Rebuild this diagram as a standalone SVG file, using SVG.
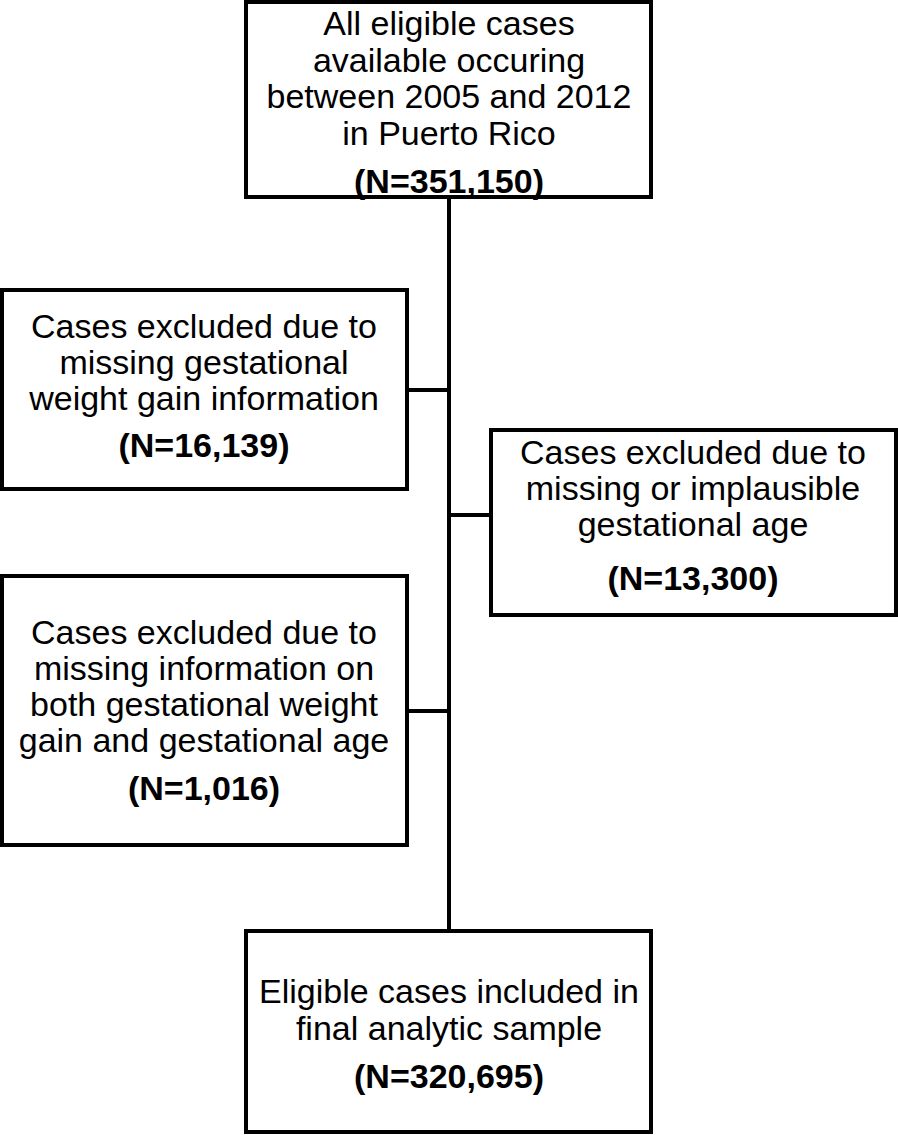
<svg xmlns="http://www.w3.org/2000/svg" width="898" height="1135" viewBox="0 0 898 1135">
<style>
.box{fill:#fff;stroke:#000;stroke-width:4}
.t{font-family:"Liberation Sans",Arial,sans-serif;font-size:34px;fill:#000;text-anchor:middle}
.b{font-family:"Liberation Sans",Arial,sans-serif;font-size:34px;font-weight:bold;fill:#000;text-anchor:middle}
.c{stroke:#000;stroke-width:4;fill:none}
</style>
<rect width="898" height="1135" fill="#fff"/>
<g id="connectors">
<line class="c" x1="449" y1="197" x2="449" y2="931"/>
<line class="c" x1="407" y1="390" x2="449" y2="390"/>
<line class="c" x1="449" y1="515" x2="491" y2="515"/>
<line class="c" x1="407" y1="711" x2="449" y2="711"/>
</g>
<g id="node-all">
<rect class="box" x="246" y="2" width="405" height="195"/>
<text class="t" x="449" y="35">All eligible cases</text>
<text class="t" x="449" y="72">available occuring</text>
<text class="t" x="449" y="108">between 2005 and 2012</text>
<text class="t" x="449" y="145">in Puerto Rico</text>
<text class="b" x="449" y="193">(N=351,150)</text>
</g>
<g id="node-gwg">
<rect class="box" x="2" y="290" width="405" height="199"/>
<text class="t" x="204" y="338">Cases excluded due to</text>
<text class="t" x="204" y="374">missing gestational</text>
<text class="t" x="204" y="410">weight gain information</text>
<text class="b" x="204" y="457">(N=16,139)</text>
</g>
<g id="node-ga">
<rect class="box" x="491" y="430" width="405" height="185"/>
<text class="t" x="693" y="464">Cases excluded due to</text>
<text class="t" x="693" y="500">missing or implausible</text>
<text class="t" x="693" y="536">gestational age</text>
<text class="b" x="693" y="590">(N=13,300)</text>
</g>
<g id="node-both">
<rect class="box" x="2" y="576" width="405" height="269"/>
<text class="t" x="204" y="644">Cases excluded due to</text>
<text class="t" x="204" y="680">missing information on</text>
<text class="t" x="204" y="716">both gestational weight</text>
<text class="t" x="204" y="752">gain and gestational age</text>
<text class="b" x="204" y="800">(N=1,016)</text>
</g>
<g id="node-final">
<rect class="box" x="246" y="931" width="405" height="201"/>
<text class="t" x="449" y="1003">Eligible cases included in</text>
<text class="t" x="449" y="1040">final analytic sample</text>
<text class="b" x="449" y="1088">(N=320,695)</text>
</g>
</svg>
